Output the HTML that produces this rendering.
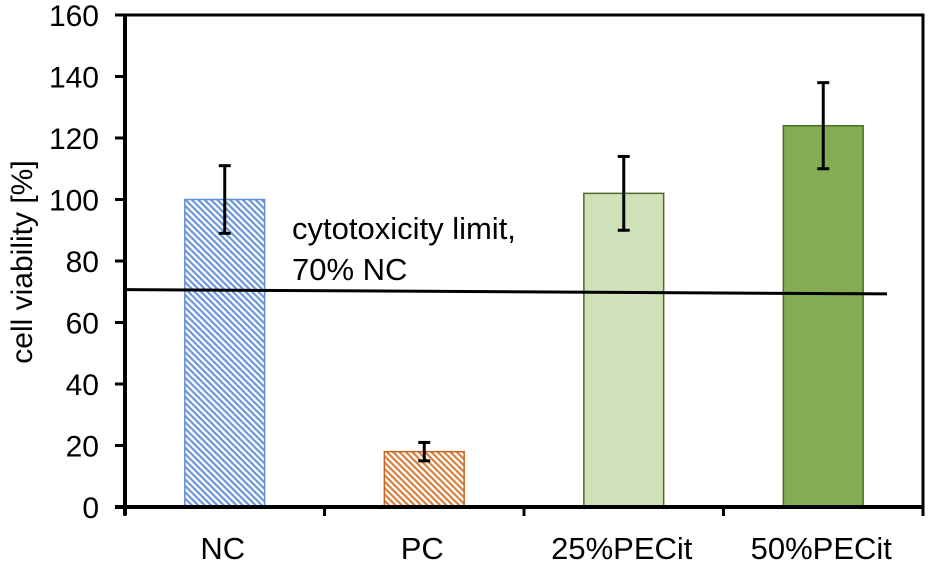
<!DOCTYPE html>
<html><head><meta charset="utf-8"><style>
body{margin:0;background:#fff}
svg text{font-family:"Liberation Sans",Arial,sans-serif;fill:#000}
</style></head><body>
<svg id="chart" width="930" height="563" viewBox="0 0 930 563" xmlns="http://www.w3.org/2000/svg">
<defs>
<pattern id="hatchBlue" width="4.5" height="4.5" patternUnits="userSpaceOnUse" patternTransform="rotate(45)">
<rect width="4.5" height="4.5" fill="#fff"/><rect width="4.5" height="2.2" fill="#6a96dc"/></pattern>
<pattern id="hatchOrange" width="4.5" height="4.5" patternUnits="userSpaceOnUse" patternTransform="rotate(45)">
<rect width="4.5" height="4.5" fill="#fff"/><rect width="4.5" height="2.2" fill="#d6803e"/></pattern>
</defs>
<g id="plot"></g>
</svg>
<script>
const categories = ["NC", "PC", "25%PECit", "50%PECit"];
const values = [100, 18, 102, 124];
const errors = [11, 3, 12, 14];
const yTicks = [0, 20, 40, 60, 80, 100, 120, 140, 160];
const limitLine = [70.7, 69.3];

const fills = ["url(#hatchBlue)", "url(#hatchOrange)", "#cfe1b9", "#84ac52"];
const strokes = ["#5f8fd8", "#c8651f", "#4e6b2a", "#4e6b2a"];
const X0 = 125, X1 = 923, Y0 = 507, Y1 = 15;
const band = (X1 - X0) / categories.length;
const xc = i => X0 + band * (i + 0.5);
const y = v => Y0 - (v - 0) / (160 - 0) * (Y0 - Y1);
const NS = "http://www.w3.org/2000/svg";
const g = document.getElementById("plot");
function mk(tag, attrs) { const e = document.createElementNS(NS, tag); for (const k in attrs) e.setAttribute(k, attrs[k]); g.appendChild(e); return e; }

let fr = mk("rect", {x: X0, y: Y1, width: X1 - X0, height: Y0 - Y1, fill: "none", stroke: "#000", "stroke-width": 3});



const bw = band * 0.4;
categories.forEach((c, i) => {
  const b = mk("rect", {x: xc(i) - bw / 2, y: y(values[i]), width: bw, height: Y0 - y(values[i]), fill: fills[i], stroke: strokes[i], "stroke-width": 1.5});
  
  
});

const ll = mk("line", {x1: X0, y1: y(limitLine[0]), x2: 887, y2: y(limitLine[1]), stroke: "#000", "stroke-width": 3});



categories.forEach((c, i) => {
  const x = xc(i), hi = y(values[i] + errors[i]), lo = y(values[i] - errors[i]);
  const eg = document.createElementNS(NS, "g"); g.appendChild(eg);
  
  
  [[x, hi, x, lo], [x - 6, hi, x + 6, hi], [x - 6, lo, x + 6, lo]].forEach(p => {
    const l = document.createElementNS(NS, "line");
    l.setAttribute("x1", p[0]); l.setAttribute("y1", p[1]); l.setAttribute("x2", p[2]); l.setAttribute("y2", p[3]);
    l.setAttribute("stroke", "#000"); l.setAttribute("stroke-width", 3);
    eg.appendChild(l);
  });
});

const ya = mk("line", {x1: X0, y1: Y1, x2: X0, y2: Y0 + 8, stroke: "#000", "stroke-width": 4});


const xa = mk("line", {x1: X0 - 10, y1: Y0, x2: X1, y2: Y0, stroke: "#000", "stroke-width": 4});



yTicks.forEach(t => {
  const tk = mk("line", {x1: X0 - 10, y1: y(t), x2: X0, y2: y(t), stroke: "#000", "stroke-width": 3});
  
  
  const tl = mk("text", {x: 99, y: y(t) + 11, "text-anchor": "end", "font-size": 30});
  tl.textContent = t;
  
  
});
for (let i = 0; i <= categories.length; i++) {
  const tk = mk("line", {x1: X0 + band * i, y1: Y0, x2: X0 + band * i, y2: Y0 + 9, stroke: "#000", "stroke-width": 3});
  
  
}
categories.forEach((c, i) => {
  const t = mk("text", {x: xc(i) - 2, y: 559, "text-anchor": "middle", "font-size": 31});
  t.textContent = c;
  
  
});

const yt = mk("text", {x: 0, y: 0, "text-anchor": "middle", "font-size": 30, transform: "translate(32,262) rotate(-90)"});
yt.textContent = "cell viability [%]";



const a1 = mk("text", {x: 292, y: 239, "font-size": 31});
a1.textContent = "cytotoxicity limit,";


const a2 = mk("text", {x: 292, y: 280, "font-size": 31});
a2.textContent = "70% NC";


</script>
</body></html>
